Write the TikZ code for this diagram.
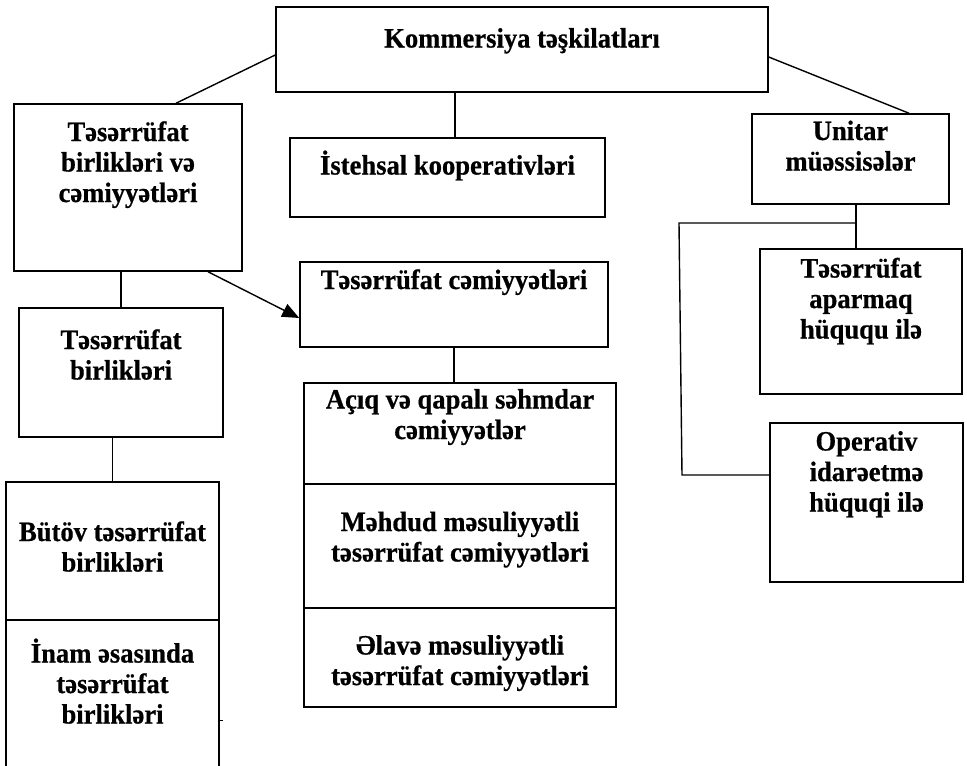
\documentclass[tikz,border=0pt]{standalone}
\usepackage{fontspec}
\setmainfont{Liberation Serif}[FakeStretch=0.95, BoldFeatures={FakeBold=0.6}]
\usetikzlibrary{fit,arrows.meta}
\newcommand\mylines[1]{\begin{tabular}[t]{@{}c@{}}#1\end{tabular}}
\tikzset{
  box/.style={draw, line width=1.5pt, inner sep=0pt},
  txt/.style={anchor=base, inner sep=0pt, font=\fontsize{28}{30.5}\selectfont\bfseries},
  conn/.style={line width=1.4pt},
}
\begin{document}
\begin{tikzpicture}[x=1pt,y=-1pt]
\useasboundingbox (0,0) rectangle (967,766);
% boxes
\node[box, fit={(276,7) (768,92)}] (top) {};
\node[box, fit={(14,104) (242,271)}] (tbc) {};
\node[box, fit={(290,138) (605,217)}] (ist) {};
\node[box, fit={(752,114) (949,204)}] (uni) {};
\node[box, fit={(19,308) (223,437)}] (tb) {};
\node[box, fit={(300,262) (608,347)}] (tc) {};
\node[box, fit={(304,383) (616,484)}] (acq) {};
\node[box, fit={(304,484) (616,608)}] (meh) {};
\node[box, fit={(304,608) (616,707)}] (ela) {};
\node[box, fit={(6,482) (219,620)}] (but) {};
\node[box, fit={(6,620) (219,772)}] (inam) {};
\node[box, fit={(760,249) (962,394)}] (tap) {};
\node[box, fit={(770,423) (963,582)}] (op) {};
% texts
\node[txt] (topT) at (522,47.5) {Kommersiya təşkilatları};
\node[txt] (tbcT) at (128,141) {\mylines{Təsərrüfat\\birlikləri və\\cəmiyyətləri}};
\node[txt] (istT) at (447.5,174.5) {İstehsal kooperativləri};
\node[txt] (uniT) at (850.5,140) {\mylines{Unitar\\müəssisələr}};
\node[txt] (tcT) at (454,289) {Təsərrüfat cəmiyyətləri};
\node[txt] (acqT) at (460,408.5) {\mylines{Açıq və qapalı səhmdar\\cəmiyyətlər}};
\node[txt] (mehT) at (460,531) {\mylines{Məhdud məsuliyyətli\\təsərrüfat cəmiyyətləri}};
\node[txt] (elaT) at (460,654.5) {\mylines{Əlavə məsuliyyətli\\təsərrüfat cəmiyyətləri}};
\node[txt] (tbT) at (121,349) {\mylines{Təsərrüfat\\birlikləri}};
\node[txt] (butT) at (112.5,541) {\mylines{Bütöv təsərrüfat\\birlikləri}};
\node[txt] (inamT) at (112.5,662.5) {\mylines{İnam əsasında\\təsərrüfat\\birlikləri}};
\node[txt] (tapT) at (861,277.5) {\mylines{Təsərrüfat\\aparmaq\\hüququ ilə}};
\node[txt] (opT) at (866.5,450.5) {\mylines{Operativ\\idarəetmə\\hüquqi ilə}};
% connectors
\draw[conn] ([yshift=-5.5pt]top.west) -- ([xshift=48pt]tbc.north);
\draw[conn] ([yshift=-7.5pt]top.east) -- ([xshift=58.5pt]uni.north);
\draw[conn] ([xshift=-67pt]top.south) -- ([xshift=-67pt]top.south |- ist.north);
\draw[conn] (tb.north) -- (tb.north |- tbc.south);
\draw[conn] (but.north) -- (but.north |- tb.south);
\draw[conn,-{Triangle[length=17pt,width=14pt]}] ([xshift=80pt]tbc.south) -- ([yshift=-13.5pt]tc.west);
\draw[conn] (tc.south) -- (tc.south |- acq.north);
\draw[conn] ([xshift=5.5pt]uni.south) -- ([xshift=5.5pt]uni.south |- tap.north);
\coordinate (j) at (856,223);
\coordinate (c1) at (679,223);
\coordinate (c2) at (682,475);
\draw[conn] (j) -- (c1) -- (c2) -- ([yshift=27.5pt]op.west);
\draw[line width=1pt] ([yshift=-24pt]inam.east) -- ++(3,0);
\end{tikzpicture}
\end{document}
